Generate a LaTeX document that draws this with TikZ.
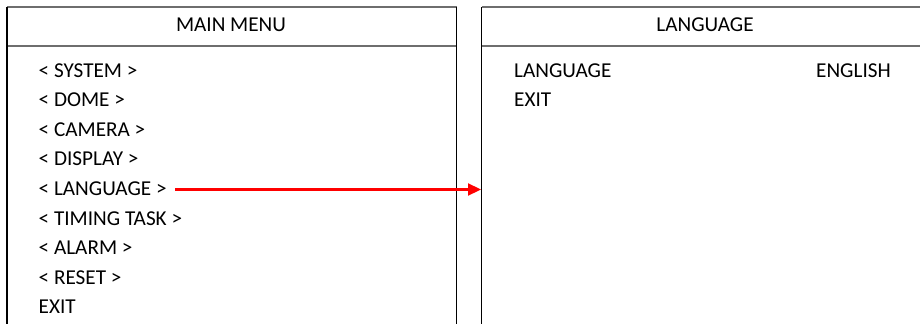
\documentclass[tikz,border=0pt]{standalone}
\usepackage{fontspec}
\setmainfont{Carlito}
\usetikzlibrary{arrows.meta}
\definecolor{hdrgray}{HTML}{6E6E6E}
\tikzset{
  txt/.style={inner sep=0pt, anchor=base west, font=\fontsize{21.2}{24}\selectfont},
  hdr/.style={inner sep=0pt, anchor=base, font=\fontsize{21.2}{24}\selectfont},
  hline/.style={draw=hdrgray, line width=1.4pt},
  vline/.style={draw=black, line width=1.4pt},
  arr/.style={draw=red, line width=2.2pt, -{Triangle[length=13pt,width=12pt]}}
}
\begin{document}
\begin{tikzpicture}[x=1pt,y=-1pt]
\useasboundingbox (0,0) rectangle (920,324);
% left panel
\draw[hline] (7,7) -- (456.5,7);
\draw[hline] (7,46) -- (456.5,46);
\draw[vline] (7,7) -- (7,324);
\draw[vline] (456.5,7) -- (456.5,324);
% right panel
\draw[hline] (481.5,7) -- (920,7);
\draw[hline] (481.5,46) -- (920,46);
\draw[vline] (481.5,7) -- (481.5,324);
% headers
\node[hdr] (mainhdr) at (231,31) {MAIN MENU};
\node[hdr] (langhdr) at (705,31) {LANGUAGE};
% left items
\node[txt] (sys)  at (38.5,77)    {< SYSTEM >};
\node[txt] (dome) at (38.5,106.6) {< DOME >};
\node[txt] (cam)  at (38.5,136.2) {< CAMERA >};
\node[txt] (disp) at (38.5,165.8) {< DISPLAY >};
\node[txt] (lang) at (38.5,195.4) {< LANGUAGE >};
\node[txt] (tim)  at (38.5,225)   {< TIMING TASK >};
\node[txt] (alm)  at (38.5,254.6) {< ALARM >};
\node[txt] (rst)  at (38.5,284.2) {< RESET >};
\node[txt] (lex)  at (38.5,313.8) {EXIT};
% right items
\node[txt] (rlang) at (514,77) {LANGUAGE};
\node[txt, anchor=base east] (reng)  at (891,77) {ENGLISH};
\node[txt] (rex)   at (514,106.6) {EXIT};
% arrow
\coordinate (astart) at (175,189.5);
\coordinate (rpleft) at (481,189.5);
\draw[arr] (astart) -- (rpleft);
\end{tikzpicture}
\end{document}
